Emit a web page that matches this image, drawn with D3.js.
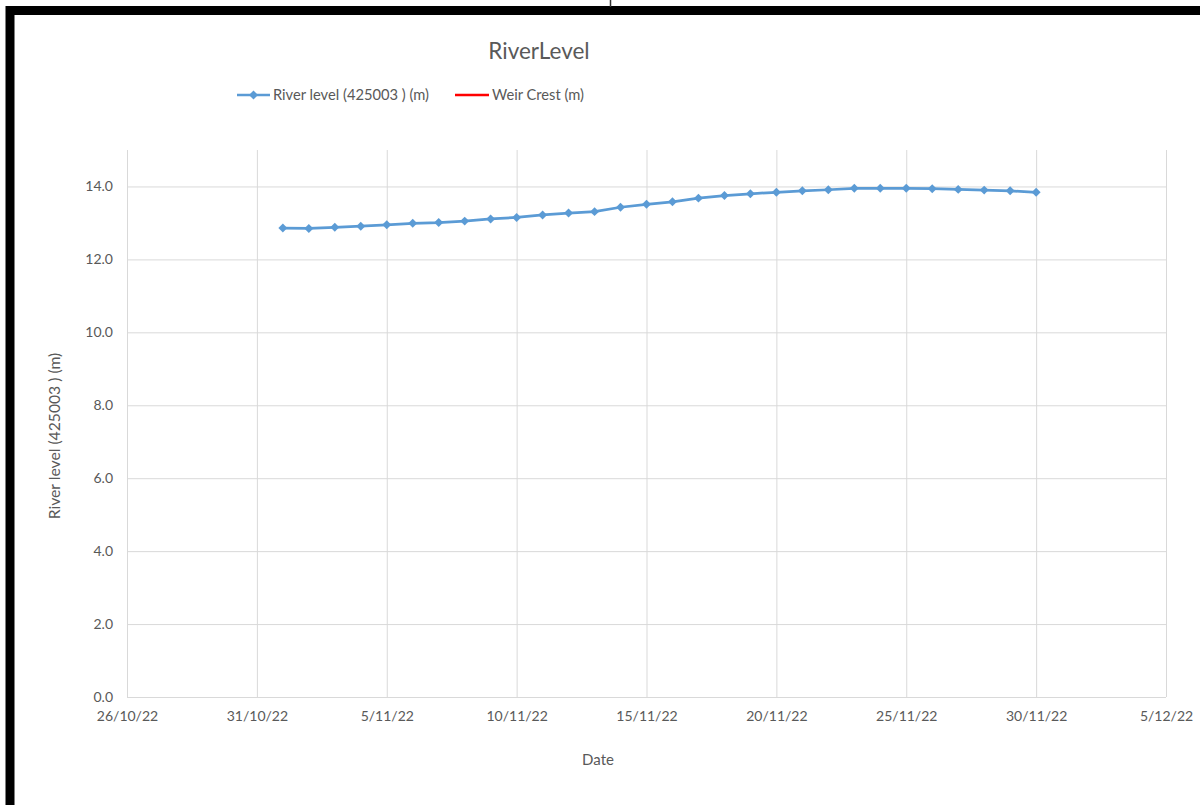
<!DOCTYPE html>
<html>
<head>
<meta charset="utf-8">
<script src="https://cdn.jsdelivr.net/npm/d3@7"></script>
<style>
  html, body { margin: 0; padding: 0; background: #fff; }
  svg { display: block; }
  text { font-family: Lato, "Open Sans", sans-serif; fill: #595959; }
</style>
</head>
<body>
<svg id="chart" width="1200" height="805"></svg>
<script>
// Daily river level readings, 1–30 Nov 2022
const dates = [
  "2022-11-01","2022-11-02","2022-11-03","2022-11-04","2022-11-05",
  "2022-11-06","2022-11-07","2022-11-08","2022-11-09","2022-11-10",
  "2022-11-11","2022-11-12","2022-11-13","2022-11-14","2022-11-15",
  "2022-11-16","2022-11-17","2022-11-18","2022-11-19","2022-11-20",
  "2022-11-21","2022-11-22","2022-11-23","2022-11-24","2022-11-25",
  "2022-11-26","2022-11-27","2022-11-28","2022-11-29","2022-11-30"
];
const riverLevel = [
  12.86, 12.85, 12.88, 12.91, 12.95, 12.99, 13.01, 13.05, 13.11, 13.15,
  13.22, 13.27, 13.31, 13.43, 13.51, 13.58, 13.68, 13.75, 13.80, 13.84,
  13.88, 13.91, 13.95, 13.95, 13.95, 13.94, 13.92, 13.90, 13.88, 13.84
];
const weirCrest = [];   // no weir crest readings in this period

const xTickDates = ["2022-10-26","2022-10-31","2022-11-05","2022-11-10","2022-11-15",
                    "2022-11-20","2022-11-25","2022-11-30","2022-12-05"];
const yTicks = [0, 2, 4, 6, 8, 10, 12, 14];

const chartTitle = "RiverLevel";
const seriesNames = ["River level (425003 ) (m)", "Weir Crest (m)"];
const xTitle = "Date";
const yTitle = "River level (425003 ) (m)";

const parse = d3.utcParse("%Y-%m-%d");
const fmtDate = d3.utcFormat("%-d/%m/%y");

const svg = d3.select("#chart");
const plot = { left: 127, right: 1166, top: 150, bottom: 697 };

const x = d3.scaleUtc()
  .domain([parse(xTickDates[0]), parse(xTickDates[xTickDates.length - 1])])
  .range([plot.left, plot.right]);
const y = d3.scaleLinear().domain([0, 15]).range([plot.bottom, plot.top]);

const BLUE = "#5B9BD5", RED = "#FF0000", GRID = "#D9D9D9";

// Frame around the sheet
svg.append("path")
  .attr("d", "M10,805 V10.5 H1200")
  .attr("fill", "none").attr("stroke", "#000").attr("stroke-width", 9);
svg.append("line")
  .attr("x1", 610.5).attr("x2", 610.5).attr("y1", 0).attr("y2", 7)
  .attr("stroke", "#333").attr("stroke-width", 1.5);

// Horizontal gridlines and y labels
const yAxis = d3.axisLeft(y).tickValues(yTicks).tickFormat(d3.format(".1f"))
  .tickSize(-(plot.right - plot.left)).tickPadding(14);
const gy = svg.append("g").attr("transform", `translate(${plot.left},0)`).call(yAxis);
gy.select(".domain").remove();
gy.selectAll(".tick line").attr("stroke", GRID).attr("stroke-width", 1);
gy.selectAll(".tick text").attr("font-size", 14).attr("fill", "#595959")
  .style("font-family", "Lato, sans-serif");

// Vertical gridlines and date labels
const xAxis = d3.axisBottom(x).tickValues(xTickDates.map(parse)).tickFormat(fmtDate)
  .tickSize(-(plot.bottom - plot.top)).tickPadding(14);
const gx = svg.append("g").attr("transform", `translate(0,${plot.bottom})`).call(xAxis);
gx.select(".domain").remove();
gx.selectAll(".tick line").attr("stroke", GRID).attr("stroke-width", 1);
gx.selectAll(".tick text").attr("font-size", 14).attr("fill", "#595959")
  .style("font-family", "Lato, sans-serif");

// Series
const pts = dates.map((d, i) => ({ date: parse(d), value: riverLevel[i] }));
const line = d3.line().x(d => x(d.date)).y(d => y(d.value));
svg.append("path").datum(pts)
  .attr("d", line).attr("fill", "none")
  .attr("stroke", BLUE).attr("stroke-width", 2.75).attr("stroke-linejoin", "round");

const diamond = d3.symbol().type(d3.symbolSquare).size(40);
svg.append("g").selectAll("path").data(pts).join("path")
  .attr("d", diamond)
  .attr("transform", d => `translate(${x(d.date)},${y(d.value)}) rotate(45)`)
  .attr("fill", BLUE);

svg.append("path").datum(weirCrest.map((v, i) => ({ date: parse(dates[i]), value: v })))
  .attr("d", line).attr("fill", "none").attr("stroke", RED).attr("stroke-width", 2.5);

// Title
svg.append("text").attr("x", 539).attr("y", 59).attr("text-anchor", "middle")
  .attr("font-size", 22.5).text(chartTitle);

// Legend
const lg = svg.append("g").attr("transform", "translate(0,95)");
lg.append("line").attr("x1", 237).attr("x2", 270).attr("stroke", BLUE).attr("stroke-width", 2.5);
lg.append("path").attr("d", diamond).attr("transform", "translate(253.5,0) rotate(45)").attr("fill", BLUE);
lg.append("text").attr("x", 273).attr("y", 5).attr("font-size", 14.7).text(seriesNames[0]);
lg.append("line").attr("x1", 455).attr("x2", 489).attr("stroke", RED).attr("stroke-width", 2.5);
lg.append("text").attr("x", 492).attr("y", 5).attr("font-size", 14.7).text(seriesNames[1]);

// Axis titles
svg.append("text").attr("x", 598).attr("y", 765).attr("text-anchor", "middle")
  .attr("font-size", 15).text(xTitle);
svg.append("text").attr("transform", "translate(60,436) rotate(-90)")
  .attr("text-anchor", "middle").attr("font-size", 15.7).text(yTitle);
</script>
</body>
</html>
